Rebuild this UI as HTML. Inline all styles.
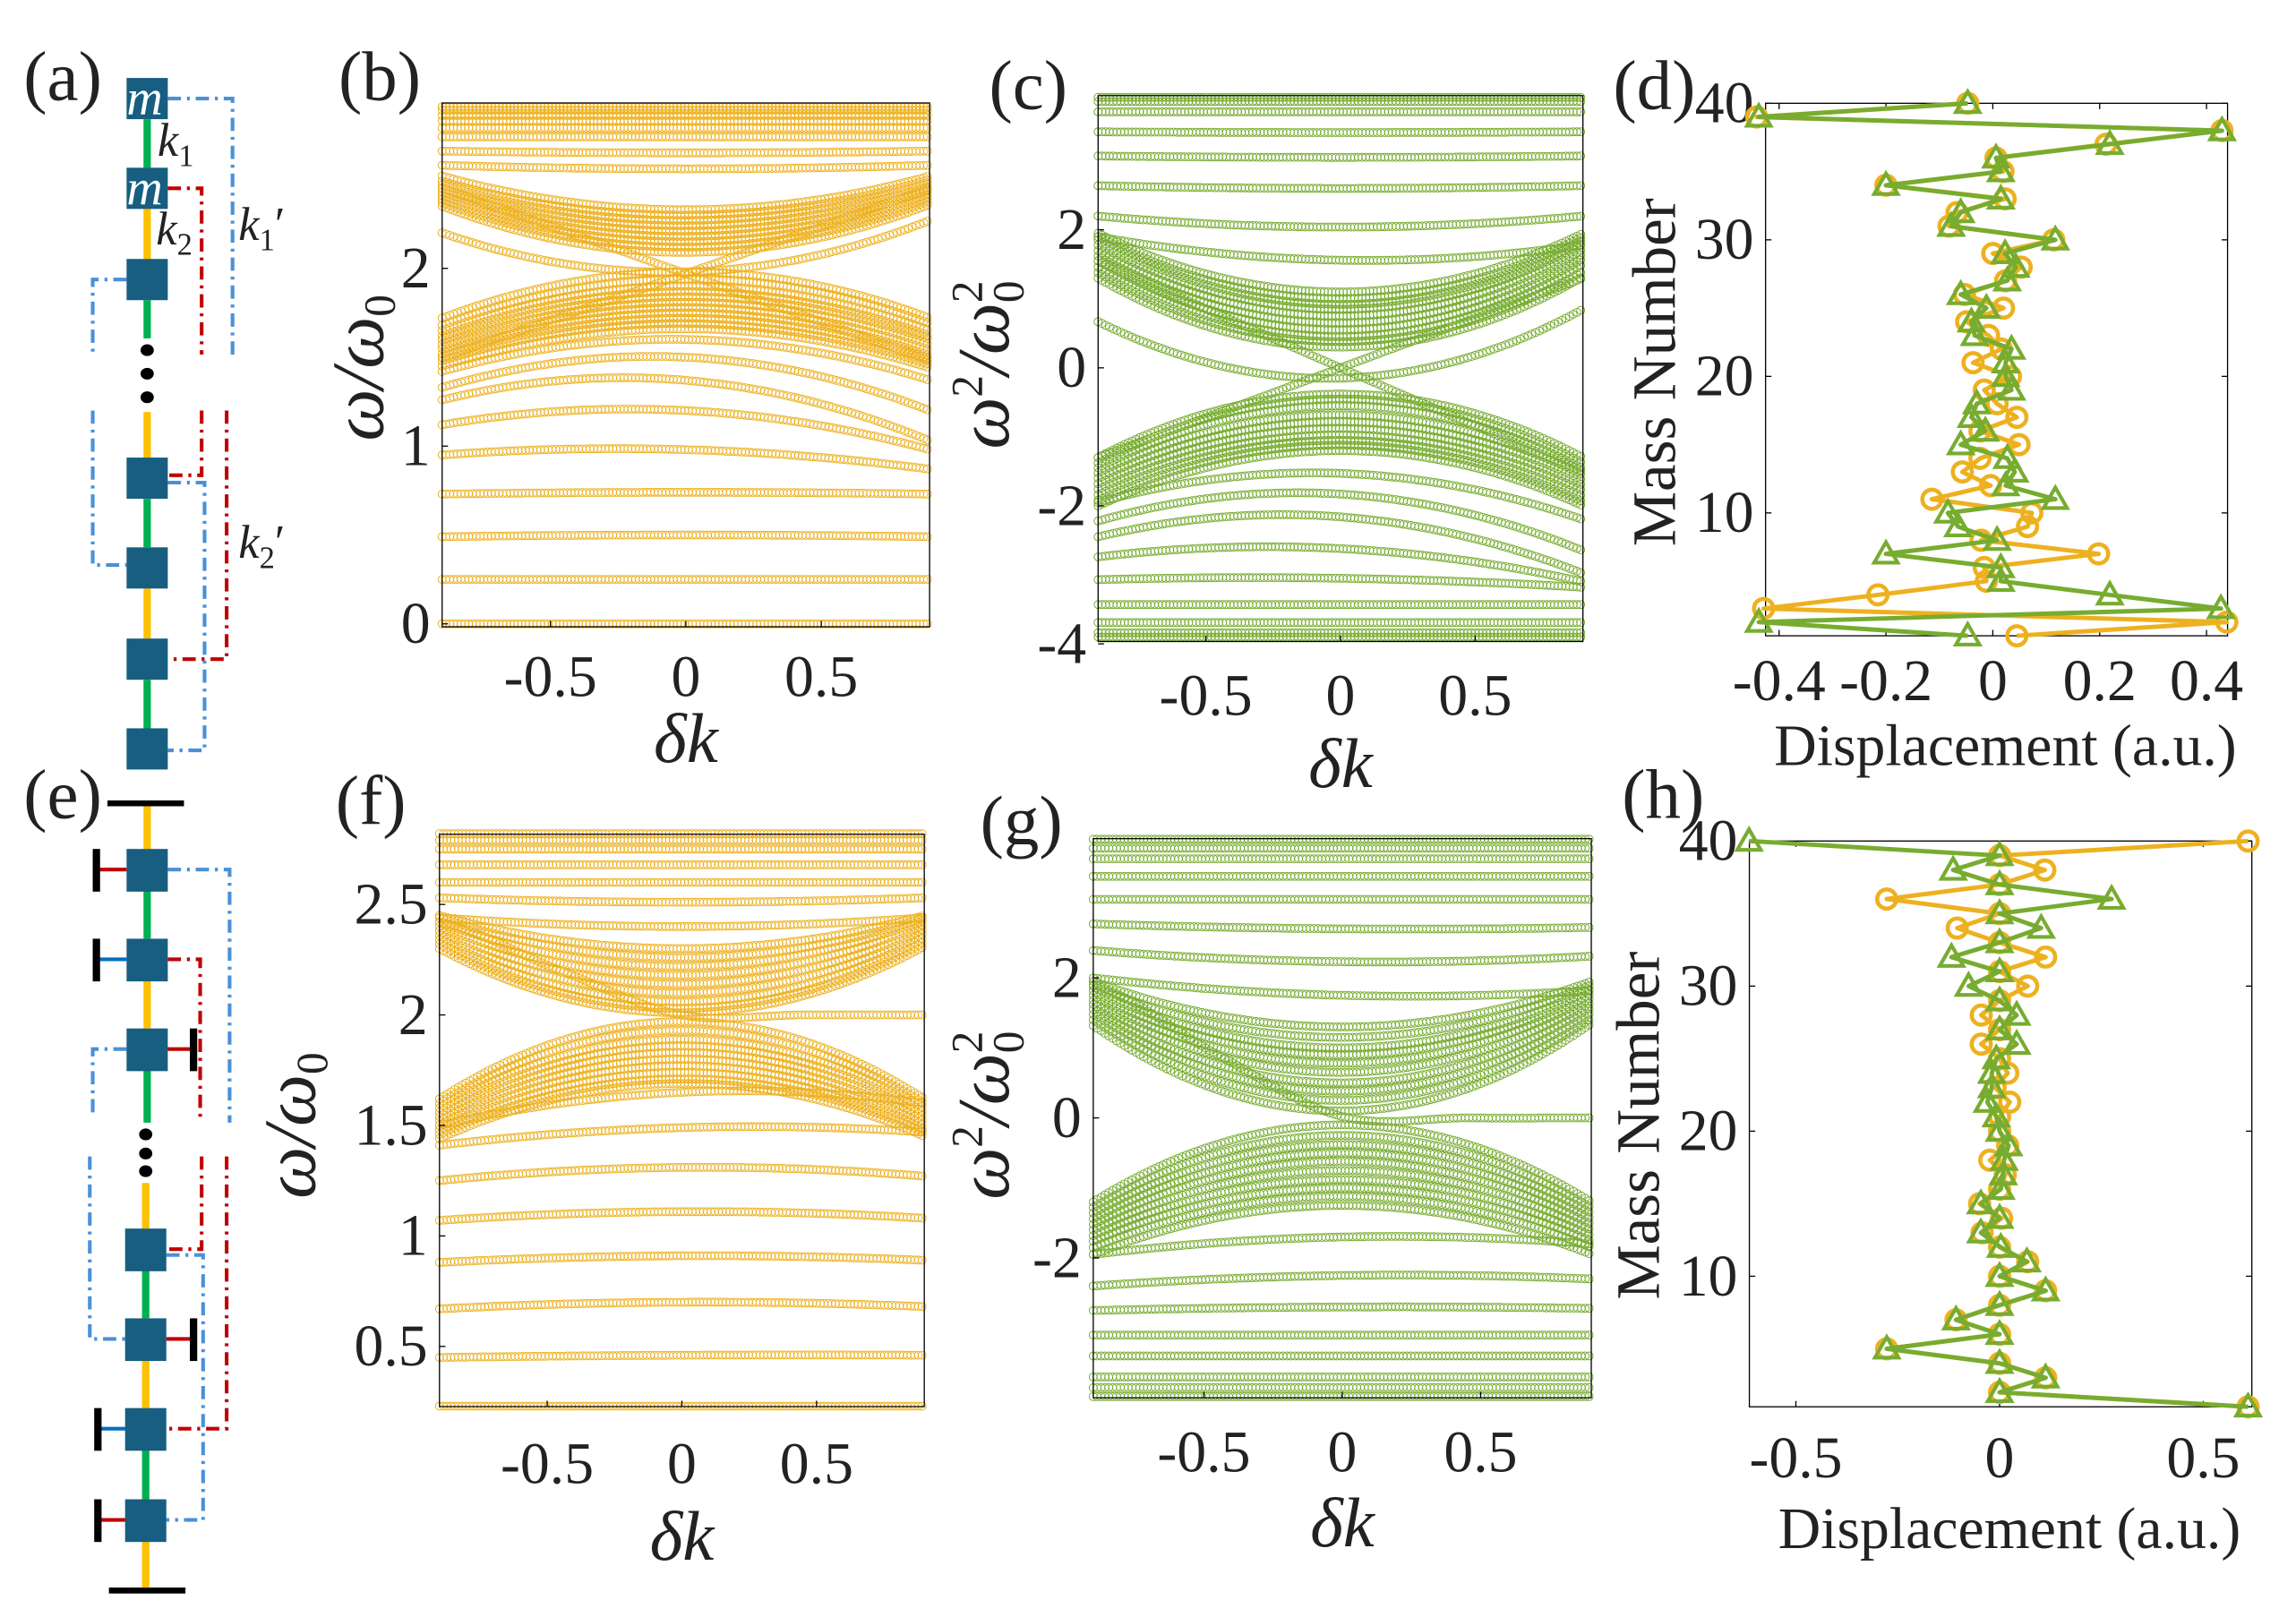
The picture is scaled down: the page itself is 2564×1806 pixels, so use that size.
<!DOCTYPE html>
<html><head><meta charset="utf-8">
<style>
html,body{margin:0;padding:0;background:#fff;}
svg{display:block;}
svg text{font-family:"Liberation Serif","Times New Roman",serif;fill:#222;}
</style></head>
<body>
<svg id="fig" width="2564" height="1806" viewBox="0 0 1560 1099" preserveAspectRatio="none" font-family="Liberation Serif, Times New Roman, serif" xmlns="http://www.w3.org/2000/svg">
<rect x="0" y="0" width="1560" height="1099" fill="#fff"/>

<g font-size="48">
<text x="16" y="68">(a)</text>
<text x="230" y="68">(b)</text>
<text x="672" y="74">(c)</text>
<text x="1096" y="74">(d)</text>
<text x="16" y="556">(e)</text>
<text x="228" y="560">(f)</text>
<text x="666" y="574">(g)</text>
<text x="1102" y="556">(h)</text>
</g>

<g id="schem-a">
<g stroke-width="5">
<line x1="100" y1="81" x2="100" y2="114" stroke="#00b050"/>
<line x1="100" y1="142" x2="100" y2="176" stroke="#ffc000"/>
<line x1="100" y1="204" x2="100" y2="230" stroke="#00b050"/>
<line x1="100" y1="280" x2="100" y2="311" stroke="#ffc000"/>
<line x1="100" y1="339" x2="100" y2="372" stroke="#00b050"/>
<line x1="100" y1="400" x2="100" y2="434" stroke="#ffc000"/>
<line x1="100" y1="462" x2="100" y2="495" stroke="#00b050"/>
</g>
<g fill="#000">
<ellipse cx="100" cy="238" rx="4.5" ry="4"/><ellipse cx="100" cy="254" rx="4.5" ry="4"/><ellipse cx="100" cy="270" rx="4.5" ry="4"/>
</g>
<g fill="none" stroke-width="2.5" stroke-dasharray="9,4,2,4">
<path d="M114,67 H158 V241" stroke="#4a90d9"/>
<path d="M114,128 H137 V241" stroke="#c00000"/>
<path d="M86,190 H63 V240" stroke="#4a90d9"/>
<path d="M63,279 V384 H86" stroke="#4a90d9"/>
<path d="M137,279 V323 H114" stroke="#c00000"/>
<path d="M154,279 V448 H114" stroke="#c00000"/>
<path d="M114,328 H139 V510 H114" stroke="#4a90d9"/>
</g>
<g fill="#175e80">
<rect x="86" y="53" width="28" height="28"/><rect x="86" y="114" width="28" height="28"/>
<rect x="86" y="176" width="28" height="28"/><rect x="86" y="311" width="28" height="28"/>
<rect x="86" y="372" width="28" height="28"/><rect x="86" y="434" width="28" height="28"/>
<rect x="86" y="495" width="28" height="28"/>
</g>
<text x="86" y="78" font-size="34" font-style="italic" style="fill:#fff">m</text>
<text x="86" y="139" font-size="34" font-style="italic" style="fill:#fff">m</text>
<text x="107" y="106" font-size="32" font-style="italic">k<tspan font-size="21" font-style="normal" dy="7">1</tspan></text>
<text x="106" y="166" font-size="32" font-style="italic">k<tspan font-size="21" font-style="normal" dy="7">2</tspan></text>
<text x="162" y="163" font-size="32" font-style="italic">k<tspan font-size="21" font-style="normal" dy="7">1</tspan><tspan dy="-7" font-style="normal">′</tspan></text>
<text x="162" y="379" font-size="32" font-style="italic">k<tspan font-size="21" font-style="normal" dy="7">2</tspan><tspan dy="-7" font-style="normal">′</tspan></text>
</g>

<g id="schem-e">
<line x1="73" y1="546" x2="125" y2="546" stroke="#000" stroke-width="4"/>
<line x1="74" y1="1081" x2="126" y2="1081" stroke="#000" stroke-width="4"/>
<g stroke-width="5">
<line x1="100" y1="548" x2="100" y2="577" stroke="#ffc000"/>
<line x1="100" y1="605" x2="100" y2="638" stroke="#00b050"/>
<line x1="100" y1="666" x2="100" y2="699" stroke="#ffc000"/>
<line x1="100" y1="727" x2="100" y2="763" stroke="#00b050"/>
<line x1="99" y1="804" x2="99" y2="835" stroke="#ffc000"/>
<line x1="99" y1="863" x2="99" y2="896" stroke="#00b050"/>
<line x1="99" y1="924" x2="99" y2="957" stroke="#ffc000"/>
<line x1="99" y1="985" x2="99" y2="1019" stroke="#00b050"/>
<line x1="99" y1="1047" x2="99" y2="1079" stroke="#ffc000"/>
</g>
<g fill="#000">
<ellipse cx="99" cy="771" rx="4.5" ry="4"/><ellipse cx="99" cy="784" rx="4.5" ry="4"/><ellipse cx="99" cy="796" rx="4.5" ry="4"/>
</g>
<g stroke-width="2.5">
<line x1="66" y1="591" x2="86" y2="591" stroke="#c00000"/>
<line x1="66" y1="652" x2="86" y2="652" stroke="#0070c0"/>
<line x1="113" y1="713" x2="130" y2="713" stroke="#c00000"/>
<line x1="113" y1="910" x2="131" y2="910" stroke="#c00000"/>
<line x1="67" y1="971" x2="86" y2="971" stroke="#0070c0"/>
<line x1="67" y1="1033" x2="86" y2="1033" stroke="#c00000"/>
</g>
<g fill="#000">
<rect x="63" y="577" width="5" height="29"/><rect x="63" y="638" width="5" height="29"/>
<rect x="129" y="699" width="5" height="29"/><rect x="129" y="896" width="5" height="29"/>
<rect x="64" y="957" width="5" height="29"/><rect x="64" y="1019" width="5" height="29"/>
</g>
<g fill="none" stroke-width="2.5" stroke-dasharray="9,4,2,4">
<path d="M114,591 H156 V763" stroke="#4a90d9"/>
<path d="M114,652 H136 V763" stroke="#c00000"/>
<path d="M86,713 H63 V759" stroke="#4a90d9"/>
<path d="M61,786 V910 H85" stroke="#4a90d9"/>
<path d="M137,786 V849 H113" stroke="#c00000"/>
<path d="M154,786 V971 H113" stroke="#c00000"/>
<path d="M113,853 H138 V1033 H113" stroke="#4a90d9"/>
</g>
<g fill="#175e80">
<rect x="86" y="577" width="28" height="29"/><rect x="86" y="638" width="28" height="29"/>
<rect x="86" y="699" width="28" height="29"/><rect x="85" y="835" width="28" height="29"/>
<rect x="85" y="896" width="28" height="29"/><rect x="85" y="957" width="28" height="29"/>
<rect x="85" y="1019" width="28" height="29"/>
</g>
</g>

<g id="plots"></g>
</svg>

<script>
const kTicks = [-0.5, 0, 0.5];
const kTickLabels = ["-0.5", "0", "0.5"];

const bandsB = [
 [2.91],[2.89],[2.86],[2.83],[2.79],[2.74],[2.66,2.65,2.66],[2.58,2.56,2.58],
 [2.52,2.33,2.52],[2.49,2.3,2.5],[2.47,2.27,2.48],[2.45,2.24,2.46],[2.43,2.21,2.44],[2.41,2.18,2.42],[2.39,2.15,2.4],[2.37,2.12,2.38],[2.35,2.09,2.36],
 [2.2,1.98,2.27],
 [2.45,1.97,1.48],[1.5,1.97,2.45],
 [1.72,1.98,1.72],[1.68,1.94,1.69],[1.65,1.9,1.65],[1.62,1.87,1.62],[1.6,1.84,1.6],[1.57,1.81,1.57],[1.55,1.78,1.54],[1.52,1.75,1.51],[1.5,1.72,1.49],[1.48,1.69,1.46],[1.45,1.66,1.44],
 [1.42,1.6,1.37],[1.33,1.5,1.2],[1.26,1.37,1.03],[1.12,1.2,0.98],[0.95,0.98,0.87],[0.73,0.74,0.73],[0.49,0.5,0.49],[0.25,0.25,0.25],[0]
];
const ticksB = [0,1,2];
const tickLabelsB = ["0","1","2"];

const bandsC = [
 [3.92],[3.86],[3.71],[3.42,3.41,3.42],[3.07,3.05,3.07],[2.64,2.6,2.64],[2.2,2.04,2.2],[1.9,1.56,1.78],
 [1.95,1.1,1.95],[1.9,1.0,1.9],[1.85,0.92,1.85],[1.78,0.85,1.8],[1.7,0.75,1.72],[1.62,0.65,1.65],[1.55,0.55,1.58],[1.46,0.45,1.5],[1.38,0.38,1.4],[1.3,0.3,1.32],
 [0.67,-0.15,0.85],
 [1.55,0,-1.5],[-1.3,0,1.3],
 [-1.3,-0.38,-1.3],[-1.38,-0.45,-1.38],[-1.45,-0.55,-1.46],[-1.52,-0.68,-1.55],[-1.6,-0.78,-1.63],[-1.68,-0.88,-1.7],[-1.76,-0.97,-1.78],[-1.84,-1.05,-1.86],[-1.92,-1.12,-1.94],[-2.0,-1.2,-2.0],
 [-1.95,-1.53,-2.2],[-2.22,-1.83,-2.65],[-2.45,-2.16,-2.98],[-2.74,-2.62,-3.1],[-3.07,-3.05,-3.18],[-3.43],[-3.69],[-3.84],[-3.9]
];
const ticksC = [-4,-2,0,2];
const tickLabelsC = ["-4","-2","0","2"];

const bandsF = [
 [2.82],[2.79],[2.75],[2.68],[2.6],[2.53,2.51,2.53],[2.44,2.4,2.44],
 [2.45,2.3,2.45],[2.44,2.26,2.44],[2.42,2.22,2.43],[2.4,2.18,2.41],[2.38,2.14,2.39],[2.36,2.1,2.37],[2.34,2.06,2.35],[2.32,2.03,2.33],[2.3,2.01,2.31],
 [2.42,2.2,2.0,2.0,2.0],
 [1.62,1.97,1.62],[1.6,1.93,1.6],[1.58,1.89,1.58],[1.56,1.86,1.56],[1.54,1.83,1.54],[1.52,1.8,1.52],[1.5,1.77,1.5],[1.48,1.74,1.48],[1.46,1.71,1.47],[1.44,1.69,1.45],
 [1.5,1.65,1.6],[1.41,1.49,1.47],[1.25,1.31,1.27],[1.07,1.11,1.08],[0.88,0.91,0.89],[0.67,0.7,0.68],[0.45,0.46,0.46],[0.23]
];
const ticksF = [0.5,1,1.5,2,2.5];
const tickLabelsF = ["0.5","1","1.5","2","2.5"];

const bandsG = [
 [3.98],[3.85],[3.7],[3.45],[3.12],[2.77,2.7,2.72],[2.39,2.23,2.31],[2.0,1.75,1.82],
 [1.95,1.3,1.95],[1.88,1.15,1.9],[1.82,1.0,1.84],[1.75,0.9,1.78],[1.68,0.78,1.72],[1.62,0.65,1.65],[1.55,0.5,1.58],[1.48,0.38,1.5],[1.4,0.25,1.42],[1.32,0.1,1.35],
 [1.9,0.9,0.02,0.0,0.0],
 [-1.2,-0.1,-1.2],[-1.28,-0.25,-1.28],[-1.36,-0.38,-1.36],[-1.44,-0.5,-1.44],[-1.52,-0.62,-1.52],[-1.6,-0.75,-1.6],[-1.68,-0.88,-1.68],[-1.76,-1.0,-1.76],[-1.85,-1.12,-1.85],[-1.95,-1.25,-1.95],
 [-1.95,-1.7,-1.8],[-2.4,-2.25,-2.3],[-2.75,-2.7,-2.72],[-3.1],[-3.4],[-3.7],[-3.85],[-3.98]
];
const ticksG = [-2,0,2];
const tickLabelsG = ["-2","0","2"];

const massNumbers = [40,39,38,37,36,35,34,33,32,31,30,29,28,27,26,25,24,23,22,21,20,19,18,17,16,15,14,13,12,11,10,9,8,7,6,5,4,3,2,1];
const dOrange = [-0.047,-0.442,0.429,0.212,0.006,0.019,-0.2,0.023,-0.067,-0.082,0.114,0,0.053,0.024,-0.053,0.02,-0.049,-0.008,0.016,-0.037,0.033,-0.016,0.008,0.045,-0.024,0.049,-0.024,-0.057,-0.004,-0.114,0.073,0.065,-0.022,0.198,-0.016,-0.012,-0.215,-0.429,0.438,0.045];
const dGreen = [-0.047,-0.438,0.429,0.219,0.006,0.015,-0.2,0.015,-0.06,-0.078,0.117,0.023,0.043,0.027,-0.06,-0.012,-0.04,-0.034,0.035,0.024,0.024,0.035,-0.03,-0.04,-0.014,-0.06,0.027,0.041,0.024,0.117,-0.084,-0.065,0.008,-0.2,0.015,0.015,0.219,0.427,-0.438,-0.047];
const hOrange = [0.61,0,0.111,0,-0.277,0,-0.104,0,0.113,0,0.069,0,-0.045,0,-0.045,0,0.02,-0.011,0.025,0,0,0.02,-0.024,0.014,0,-0.049,0.005,-0.043,0,0.069,0,0.113,0,-0.107,0,-0.277,0,0.113,0,0.61];
const hGreen = [-0.615,0,-0.114,0,0.275,0,0.102,0,-0.118,0,-0.076,0,0.042,0,0.042,-0.008,-0.019,-0.019,-0.03,-0.008,0,0.022,0.011,0.009,0.003,-0.046,0,-0.046,0.003,0.067,0,0.113,0,-0.107,0,-0.277,0,0.113,0,0.61];
const dTicksX = [-0.4,-0.2,0,0.2,0.4];
const dTickLabelsX = ["-0.4","-0.2","0","0.2","0.4"];
const hTicksX = [-0.5,0,0.5];
const hTickLabelsX = ["-0.5","0","0.5"];
const massTicks = [10,20,30,40];
const massTickLabels = ["10","20","30","40"];

const ORANGE = "#EDB120", GREEN = "#77AC30";
const NS = "http://www.w3.org/2000/svg";
const root = document.getElementById('plots');

function mk(tag, attrs, parent) {
  const e = document.createElementNS(NS, tag);
  for (const k in attrs) e.setAttribute(k, attrs[k]);
  (parent || root).appendChild(e);
  return e;
}

function bandValue(b, k) {
  if (b.length === 1) return b[0];
  if (b.length === 3) {
    const [l, c, r] = b;
    const t = k / 0.9;
    return c + (r - l) / 2 * t + ((l + r) / 2 - c) * t * t;
  }
  const pos = (k + 0.9) / 0.45;
  let i = Math.min(3, Math.max(0, Math.floor(pos)));
  const t = pos - i;
  const p0 = b[Math.max(0, i - 1)], p1 = b[i], p2 = b[i + 1], p3 = b[Math.min(4, i + 2)];
  return 0.5 * ((2 * p1) + (-p0 + p2) * t + (2 * p0 - 5 * p1 + 4 * p2 - p3) * t * t + (-p0 + 3 * p1 - 3 * p2 + p3) * t * t * t);
}

function bandPanel(o) {
  const g = mk('g', {});
  
  
  const xs = k => o.xc + k * o.xu;
  const ys = v => o.y0v - v * o.yu;
  const marks = mk('g', {fill: 'none', stroke: o.color, 'stroke-width': 0.6}, g);
  
  
  o.bands.forEach((b, bi) => {
    const bg = mk('g', {}, marks);
    
    
    for (let k = -0.9; k <= 0.9001; k += 0.014) {
      mk('circle', {cx: xs(k).toFixed(1), cy: ys(bandValue(b, k)).toFixed(1), r: 2.7}, bg);
    }
  });
  const bx = xs(-0.9), bw = xs(0.9) - xs(-0.9);
  const box = mk('rect', {x: bx, y: o.top, width: bw, height: o.bottom - o.top, fill: 'none', stroke: '#000', 'stroke-width': 0.8}, g);
  
  
  kTicks.forEach((t, i) => {
    mk('line', {x1: xs(t), x2: xs(t), y1: o.bottom, y2: o.bottom - 4, stroke: '#000', 'stroke-width': 0.8}, g);
    const tl = mk('text', {x: xs(t), y: o.xlabY, 'font-size': 40, 'text-anchor': 'middle'}, g);
    
    
    tl.textContent = kTickLabels[i];
  });
  o.yt.forEach((t, i) => {
    mk('line', {x1: bx, x2: bx + 4, y1: ys(t), y2: ys(t), stroke: '#000', 'stroke-width': 0.8}, g);
    const tl = mk('text', {x: bx - 8, y: ys(t) + 13, 'font-size': 40, 'text-anchor': 'end'}, g);
    
    
    tl.textContent = o.ytl[i];
  });
  const xl = mk('text', {x: xs(0), y: o.xtitleY, 'font-size': 48, 'font-style': 'italic', 'text-anchor': 'middle'}, g);
  
  
  xl.textContent = 'δk';
  const yl = mk('text', {transform: `translate(${o.ytX},${o.ytY}) rotate(-90)`, 'font-size': 50, 'font-style': 'italic', 'text-anchor': 'middle'}, g);
  
  
  if (o.sq) {
    yl.innerHTML = 'ω<tspan font-size="30" dy="-18" font-style="normal">2</tspan><tspan dy="18">/ω</tspan><tspan font-size="30" dy="-18" font-style="normal">2</tspan><tspan font-size="30" dx="-15" dy="28" font-style="normal">0</tspan>';
  } else {
    yl.innerHTML = 'ω/ω<tspan font-size="30" dy="8" font-style="normal">0</tspan>';
  }
}

bandPanel({name: 'panel-b', bands: bandsB, color: ORANGE, xc: 466, xu: 184, y0v: 424, yu: 120.8, top: 70, bottom: 426,
  yt: ticksB, ytl: tickLabelsB, xlabY: 473, xtitleY: 518, ytX: 260, ytY: 250});
bandPanel({name: 'panel-c', bands: bandsC, color: GREEN, xc: 910.8, xu: 183, y0v: 250, yu: 46.9, top: 65, bottom: 436,
  yt: ticksC, ytl: tickLabelsC, xlabY: 486, xtitleY: 535, ytX: 685, ytY: 248, sq: true});
bandPanel({name: 'panel-f', bands: bandsF, color: ORANGE, xc: 463.3, xu: 183, y0v: 689.8 + 2 * 150.2, yu: 150.2, top: 567, bottom: 956,
  yt: ticksF, ytl: tickLabelsF, xlabY: 1008, xtitleY: 1060, ytX: 214, ytY: 765});
bandPanel({name: 'panel-g', bands: bandsG, color: GREEN, xc: 912, xu: 188, y0v: 759.8, yu: 47.6, top: 570, bottom: 950,
  yt: ticksG, ytl: tickLabelsG, xlabY: 1000, xtitleY: 1051, ytX: 685, ytY: 758, sq: true});

function modePanel(o) {
  const g = mk('g', {});
  
  
  const xs = v => o.xc + v * o.xu;
  const ys = m => o.top + (40 - m) * o.mu;
  const box = mk('rect', {x: o.left, y: o.top, width: o.right - o.left, height: ys(1) - o.top, fill: 'none', stroke: '#000', 'stroke-width': 0.8}, g);
  
  
  const bottom = ys(1);
  o.xt.forEach((t, i) => {
    mk('line', {x1: xs(t), x2: xs(t), y1: bottom, y2: bottom - 4, stroke: '#000', 'stroke-width': 0.8}, g);
    mk('line', {x1: xs(t), x2: xs(t), y1: o.top, y2: o.top + 4, stroke: '#000', 'stroke-width': 0.8}, g);
    const tl = mk('text', {x: xs(t), y: o.xlabY, 'font-size': 40, 'text-anchor': 'middle'}, g);
    
    
    tl.textContent = o.xtl[i];
  });
  massTicks.forEach((t, i) => {
    mk('line', {x1: o.left, x2: o.left + 4, y1: ys(t), y2: ys(t), stroke: '#000', 'stroke-width': 0.8}, g);
    mk('line', {x1: o.right, x2: o.right - 4, y1: ys(t), y2: ys(t), stroke: '#000', 'stroke-width': 0.8}, g);
    const tl = mk('text', {x: o.left - 8, y: ys(t) + 13, 'font-size': 40, 'text-anchor': 'end'}, g);
    
    
    tl.textContent = massTickLabels[i];
  });
  [[o.orange, ORANGE, 'circle'], [o.green, GREEN, 'tri']].forEach(([vals, col, shape]) => {
    const sg = mk('g', {}, g);
    
    
    const pts = vals.map((v, i) => xs(v).toFixed(1) + ',' + ys(massNumbers[i]).toFixed(1)).join(' ');
    const pl = mk('polyline', {points: pts, fill: 'none', stroke: col, 'stroke-width': 3, 'stroke-linejoin': 'round'}, sg);
    
    
    vals.forEach((v, i) => {
      const x = xs(v), y = ys(massNumbers[i]);
      let m;
      if (shape === 'circle') m = mk('circle', {cx: x, cy: y, r: 6.5, fill: 'none', stroke: col, 'stroke-width': 2.8}, sg);
      else m = mk('polygon', {points: `${x},${y - 8} ${x - 8},${y + 6} ${x + 8},${y + 6}`, fill: 'none', stroke: col, 'stroke-width': 2.5}, sg);
      
      
    });
  });
  const xl = mk('text', {x: (o.left + o.right) / 2 + 6, y: o.xtitleY, 'font-size': 40, 'text-anchor': 'middle'}, g);
  
  
  xl.textContent = 'Displacement (a.u.)';
  const yl = mk('text', {transform: `translate(${o.ytX},${o.ytY}) rotate(-90)`, 'font-size': 42, 'text-anchor': 'middle'}, g);
  
  
  yl.textContent = 'Mass Number';
}

modePanel({name: 'panel-d', orange: dOrange, green: dGreen, xc: 1354, xu: 363, left: 1199.6, right: 1513.5, top: 70.2, mu: 9.28,
  xt: dTicksX, xtl: dTickLabelsX, xlabY: 476, xtitleY: 520, ytX: 1138, ytY: 253});
modePanel({name: 'panel-h', orange: hOrange, green: hGreen, xc: 1358.6, xu: 276.8, left: 1188.6, right: 1530, top: 571.6, mu: 9.86,
  xt: hTicksX, xtl: hTickLabelsX, xlabY: 1004, xtitleY: 1052, ytX: 1127, ytY: 765});
</script>
</body></html>
